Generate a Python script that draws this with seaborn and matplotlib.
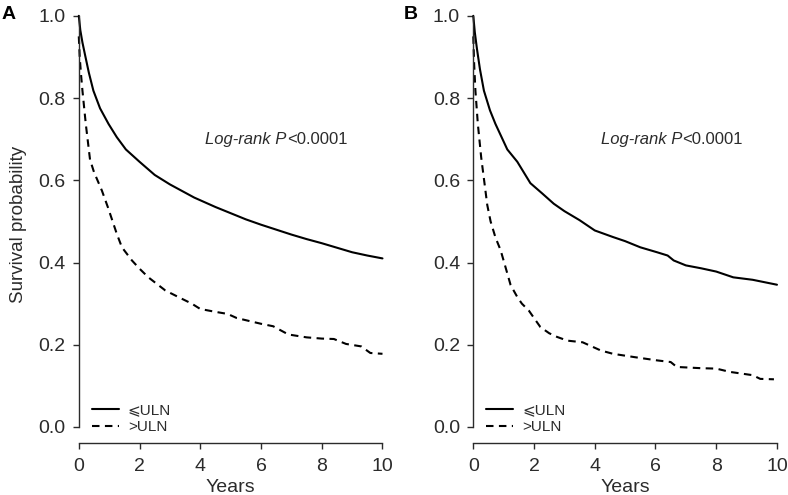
import matplotlib
matplotlib.use("Agg")
import matplotlib.pyplot as plt
import seaborn as sns
import pandas as pd

# Kaplan-Meier curves (years, survival probability)
a_low_t = [0, 0.05, 0.12, 0.22, 0.33, 0.48, 0.7, 0.98, 1.25, 1.55, 2.0, 2.5, 3.0, 3.8,
           4.5, 5.0, 5.5, 6.0, 6.5, 7.0, 7.5, 8.0, 8.5, 9.0, 9.5, 10.0]
a_low_s = [1.0, 0.965, 0.935, 0.90, 0.862, 0.818, 0.775, 0.737, 0.705, 0.675, 0.645, 0.613,
           0.59, 0.558, 0.535, 0.52, 0.505, 0.492, 0.48, 0.468, 0.457, 0.447, 0.436, 0.425,
           0.417, 0.41]
a_high_t = [0, 0.03, 0.07, 0.12, 0.23, 0.37, 0.5, 0.76, 0.96, 1.25, 1.42, 1.75, 2.0, 2.29,
            2.85, 3.28, 3.72, 4.0, 4.5, 4.9, 5.2, 6.0, 6.4, 6.9, 7.5, 8.0, 8.4, 8.8, 9.3,
            9.6, 10.0]
a_high_s = [0.95, 0.9, 0.86, 0.818, 0.737, 0.65, 0.62, 0.575, 0.534, 0.47, 0.437, 0.405,
            0.385, 0.364, 0.332, 0.316, 0.30, 0.287, 0.28, 0.275, 0.265, 0.251, 0.245, 0.225,
            0.218, 0.215, 0.214, 0.202, 0.196, 0.18, 0.178]

b_low_t = [0, 0.05, 0.12, 0.22, 0.35, 0.55, 0.73, 0.9, 1.12, 1.45, 1.88, 2.27, 2.65, 3.0,
           3.5, 4.0, 4.6, 5.0, 5.5, 6.05, 6.4, 6.6, 7.0, 7.5, 8.0, 8.56, 9.2, 10.0]
b_low_s = [1.0, 0.96, 0.92, 0.87, 0.818, 0.77, 0.737, 0.71, 0.675, 0.645, 0.593, 0.568,
           0.543, 0.525, 0.503, 0.478, 0.462, 0.452, 0.437, 0.425, 0.417, 0.405, 0.393,
           0.386, 0.378, 0.364, 0.358, 0.346]
b_high_t = [0, 0.03, 0.07, 0.15, 0.26, 0.4, 0.46, 0.57, 0.73, 0.9, 1.06, 1.23, 1.45, 1.6,
            1.83, 2.0, 2.21, 2.5, 2.76, 3.1, 3.6, 4.2, 4.6, 5.3, 6.05, 6.5, 6.7, 7.5, 8.0,
            8.45, 9.2, 9.45, 9.9]
b_high_s = [0.95, 0.88, 0.818, 0.737, 0.656, 0.575, 0.54, 0.50, 0.461, 0.43, 0.389, 0.345,
            0.316, 0.30, 0.283, 0.265, 0.243, 0.228, 0.219, 0.21, 0.206, 0.186, 0.178, 0.17,
            0.162, 0.158, 0.146, 0.143, 0.142, 0.134, 0.126, 0.117, 0.116]

groups = ["\u2a7dULN", ">ULN"]
panels = ["A", "B"]
pvalue_text = ("Log-rank P", "<0.0001")
x_ticks = [0, 2, 4, 6, 8, 10]
y_ticks = [0.0, 0.2, 0.4, 0.6, 0.8, 1.0]


def km_frame(low_t, low_s, high_t, high_s):
    df_low = pd.DataFrame({"Years": low_t, "Survival": low_s, "group": groups[0]})
    df_high = pd.DataFrame({"Years": high_t, "Survival": high_s, "group": groups[1]})
    return pd.concat([df_low, df_high], ignore_index=True)


sns.set_style("ticks")
plt.rcParams["font.family"] = ["Liberation Sans", "DejaVu Sans"]
ink = "#2b2b2b"

fig, axes = plt.subplots(1, 2, figsize=(7.88, 4.95), dpi=100)
fig.subplots_adjust(left=0.1, right=0.986, bottom=0.105, top=0.9697, wspace=0.299)

data = [km_frame(a_low_t, a_low_s, a_high_t, a_high_s),
        km_frame(b_low_t, b_low_s, b_high_t, b_high_s)]
split_x = [6.85, 6.87]   # where "P" ends and "<0.0001" begins
label_offset = [-77, -70]

for i, (ax, df, name) in enumerate(zip(axes, data, panels)):
    sns.lineplot(data=df, x="Years", y="Survival", style="group",
                 dashes={groups[0]: "", groups[1]: (3.6, 2.6)},
                 color="black", linewidth=1.5, estimator=None, sort=False,
                 ax=ax)
    ax.set_xlim(0, 10)
    ax.set_ylim(-0.039, 1.002)
    for line in ax.get_lines():
        line.set_clip_on(False)

    sns.despine(ax=ax)
    ax.spines["left"].set_bounds(0, 1)
    ax.spines["bottom"].set_bounds(0, 10)
    for sp in ("left", "bottom"):
        ax.spines[sp].set_color(ink)
        ax.spines[sp].set_linewidth(1.0)

    ax.set_xticks(x_ticks)
    ax.set_yticks(y_ticks)
    ax.set_xticklabels([str(v) for v in x_ticks])
    ax.set_yticklabels([f"{v:.1f}" for v in y_ticks])
    ax.tick_params(axis="both", length=4.5, width=1.0, color=ink,
                   labelcolor=ink, labelsize=14)
    ax.tick_params(axis="x", pad=6)
    ax.tick_params(axis="y", pad=5)

    ax.set_xlabel("Years", fontsize=14, color=ink, labelpad=3)
    if name == "A":
        ax.set_ylabel("Survival probability", fontsize=13.5, color=ink,
                      labelpad=8, y=0.51)
    else:
        ax.set_ylabel("")

    handles, labels = ax.get_legend_handles_labels()
    ax.legend(handles, labels, loc="lower left", bbox_to_anchor=(0.043, 0.02),
              frameon=False, fontsize=11, handlelength=1.75, handletextpad=0.6,
              labelspacing=0.2, borderpad=0, borderaxespad=0,
              labelcolor=ink)

    ax.text(split_x[i], 0.70, pvalue_text[0], style="italic", fontsize=12,
            color=ink, ha="right", va="center")
    ax.text(split_x[i], 0.70, pvalue_text[1], fontsize=12, color=ink,
            ha="left", va="center")

    ax.annotate(name, xy=(0, 1), xycoords="axes fraction",
                xytext=(label_offset[i], 0), textcoords="offset pixels",
                fontsize=14, fontweight="bold", color="black",
                ha="left", va="center")

fig.savefig("out.png", dpi=100)
